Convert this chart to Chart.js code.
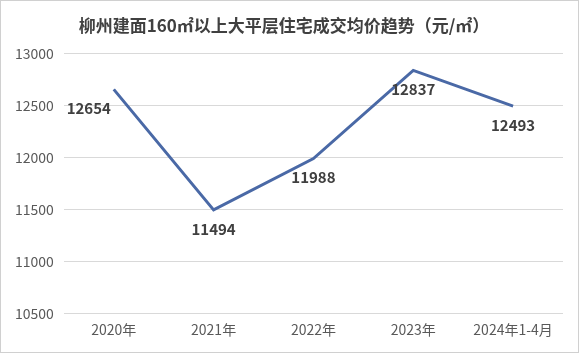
<!DOCTYPE html>
<html>
<head>
<meta charset="utf-8">
<script src="https://cdn.jsdelivr.net/npm/chart.js@4"></script>
<style>
  html, body { margin: 0; padding: 0; background: #fff; }
  #wrap { width: 579px; height: 353px; position: relative; box-sizing: border-box; border: 1px solid #d0d0d0; }
</style>
</head>
<body>
<div id="wrap"><canvas id="priceChart"></canvas></div>
<script>
var years = ['2020年', '2021年', '2022年', '2023年', '2024年1-4月'];
var avgPrice = [12654, 11494, 11988, 12837, 12493];
var yTicks = [10500, 11000, 11500, 12000, 12500, 13000];

// data labels drawn under each point
var labelPlugin = {
  id: 'pointLabels',
  afterDatasetsDraw: function (chart) {
    var ctx = chart.ctx;
    var meta = chart.getDatasetMeta(0);
    ctx.save();
    ctx.font = 'bold 15px "Noto Sans CJK SC", sans-serif';
    ctx.fillStyle = '#404040';
    ctx.textAlign = 'center';
    ctx.textBaseline = 'middle';
    meta.data.forEach(function (pt, i) {
      var dx = i === 0 ? -25 : 0;
      ctx.fillText(String(avgPrice[i]), pt.x + dx, pt.y + 19);
    });
    ctx.restore();
  }
};

var ctx = document.getElementById('priceChart').getContext('2d');
new Chart(ctx, {
  type: 'line',
  data: {
    labels: years,
    datasets: [{
      label: '成交均价',
      data: avgPrice,
      borderColor: '#4a69a6',
      borderWidth: 3,
      pointRadius: 0,
      tension: 0,
      fill: false
    }]
  },
  options: {
    responsive: true,
    maintainAspectRatio: false,
    animation: false,
    layout: { padding: { left: 4, right: 15, top: 4, bottom: 6 } },
    plugins: {
      legend: { display: false },
      tooltip: { enabled: false },
      title: {
        display: true,
        text: '柳州建面160㎡以上大平层住宅成交均价趋势（元/㎡）',
        color: '#404040',
        font: { family: '"Noto Sans CJK SC", sans-serif', size: 17, weight: 'bold' },
        padding: { top: 10, bottom: 18 }
      }
    },
    scales: {
      x: {
        offset: true,
        grid: { display: false, drawTicks: false },
        border: { display: false },
        ticks: {
          color: '#595959',
          padding: 8,
          font: { family: '"Noto Sans CJK SC", sans-serif', size: 14 }
        }
      },
      y: {
        min: yTicks[0],
        max: yTicks[yTicks.length - 1],
        afterBuildTicks: function (axis) {
          axis.ticks = yTicks.map(function (v) { return { value: v }; });
        },
        grid: { color: '#d9d9d9', drawTicks: false },
        border: { display: false },
        ticks: {
          color: '#595959',
          padding: 10,
          font: { family: '"Noto Sans CJK SC", sans-serif', size: 14 },
          callback: function (v) { return String(v); }
        }
      }
    }
  },
  plugins: [labelPlugin]
});
</script>
</body>
</html>
